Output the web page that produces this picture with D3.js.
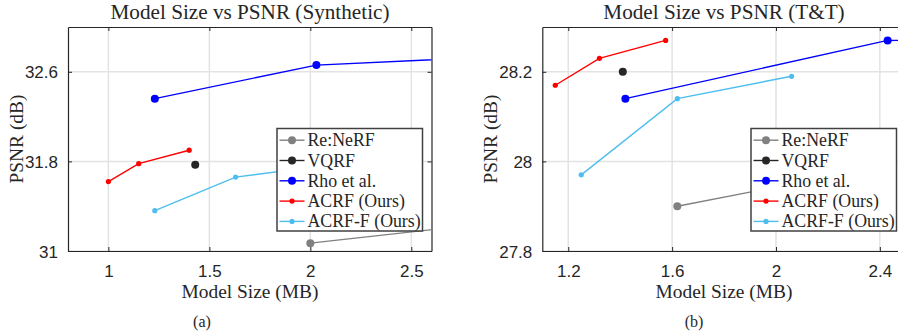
<!DOCTYPE html>
<html>
<head>
<meta charset="utf-8">
<script src="https://cdn.jsdelivr.net/npm/d3@7"></script>
<style>
  body { margin: 0; background: #fff; }
  svg { display: block; }
  .tick-label { font-family: "Liberation Sans", Arial, sans-serif; font-size: 17px; fill: #262626; }
  .serif { font-family: "Liberation Serif", "Times New Roman", serif; fill: #262626; }
</style>
</head>
<body>
<div id="chart"></div>
<script>
// series names (legend order)
const seriesNames = ["Re:NeRF", "VQRF", "Rho et al.", "ACRF (Ours)", "ACRF-F (Ours)"];
const seriesColors = ["#808080", "#262626", "#0000ff", "#ff0000", "#4dbeee"];
const markerR = [4, 4, 4, 2.6, 2.6];

// Synthetic panel: [model size (MB), PSNR (dB)]
const synReNeRF = [[2.0, 31.07], [3.0, 31.27]];
const synVQRF = [[1.43, 31.77]];
const synRho = [[1.23, 32.36], [2.03, 32.66], [3.0, 32.74]];
const synACRF = [[1.0, 31.62], [1.15, 31.78], [1.4, 31.9]];
const synACRFF = [[1.23, 31.36], [1.63, 31.66], [2.06, 31.76]];
const synXTicks = [1, 1.5, 2, 2.5];
const synYTicks = [31, 31.8, 32.6];

// T&T panel
const ttReNeRF = [[1.62, 27.9], [2.42, 27.99]];
const ttVQRF = [[1.41, 28.2]];
const ttRho = [[1.42, 28.14], [2.43, 28.27], [3.0, 28.275]];
const ttACRF = [[1.15, 28.17], [1.32, 28.23], [1.575, 28.27]];
const ttACRFF = [[1.25, 27.97], [1.62, 28.14], [2.06, 28.19]];
const ttXTicks = [1.2, 1.6, 2, 2.4];
const ttYTicks = [27.8, 28, 28.2];

const W = 898, H = 333;
const svg = d3.select("#chart").append("svg")
    .attr("width", W)
    .attr("height", H);

function drawPanel(opt) {
    const left = opt.left, top = 27, pw = 363.5, ph = 224;
    const x = d3.scaleLinear().domain(opt.xDomain).range([left, left + pw]);
    const y = d3.scaleLinear().domain(opt.yDomain).range([top + ph, top]);

    const clipId = "clip-" + opt.id;
    svg.append("clipPath").attr("id", clipId)
        .append("rect")
        .attr("x", left).attr("y", top)
        .attr("width", pw).attr("height", ph);

    const g = svg.append("g");

    // grid
    g.selectAll(".gx").data(opt.xTicks).enter().append("line")
        .attr("x1", d => x(d)).attr("x2", d => x(d))
        .attr("y1", top).attr("y2", top + ph)
        .attr("stroke", "#e3e3e3").attr("stroke-width", 1.5);
    g.selectAll(".gy").data(opt.yTicks).enter().append("line")
        .attr("x1", left).attr("x2", left + pw)
        .attr("y1", d => y(d)).attr("y2", d => y(d))
        .attr("stroke", "#e3e3e3").attr("stroke-width", 1.5);

    // axes (inward ticks, box on)
    const axB = d3.axisBottom(x).tickValues(opt.xTicks).tickSizeInner(-4).tickSizeOuter(0).tickPadding(10).tickFormat(d => String(d));
    const axT = d3.axisTop(x).tickValues(opt.xTicks).tickSizeInner(-4).tickSizeOuter(0).tickFormat("");
    const axL = d3.axisLeft(y).tickValues(opt.yTicks).tickSizeInner(-4).tickSizeOuter(0).tickPadding(10).tickFormat(d => String(d));
    const axR = d3.axisRight(y).tickValues(opt.yTicks).tickSizeInner(-4).tickSizeOuter(0).tickFormat("");

    const gb = g.append("g").attr("transform", `translate(0,${top + ph})`).call(axB);
    const gt = g.append("g").attr("transform", `translate(0,${top})`).call(axT);
    const gl = g.append("g").attr("transform", `translate(${left},0)`).call(axL);
    const gr = g.append("g").attr("transform", `translate(${left + pw},0)`).call(axR);
    [gb, gt, gl, gr].forEach(a => {
        a.select(".domain").attr("stroke", "#262626").attr("stroke-width", 1.2);
        a.selectAll(".tick line").attr("stroke", "#262626").attr("stroke-width", 1);
        a.selectAll("text").attr("class", "tick-label").attr("font-size", null).attr("font-family", null).attr("fill", null);
    });
    gb.selectAll("text").attr("dy", "0.95em");
    gl.selectAll("text").attr("dy", "0.36em");

    // series
    const plot = g.append("g").attr("clip-path", `url(#${clipId})`);
    const line = d3.line().x(d => x(d[0])).y(d => y(d[1]));
    opt.series.forEach((s, i) => {
        if (s.length > 1) {
            plot.append("path").datum(s)
                .attr("d", line)
                .attr("fill", "none")
                .attr("stroke", seriesColors[i])
                .attr("stroke-width", 1.4);
        }
        plot.selectAll(".m" + i).data(s).enter().append("circle")
            .attr("cx", d => x(d[0])).attr("cy", d => y(d[1]))
            .attr("r", markerR[i])
            .attr("fill", seriesColors[i]);
    });

    // title
    svg.append("text").attr("class", "serif")
        .attr("x", opt.titleX).attr("y", 19)
        .attr("text-anchor", "middle")
        .attr("font-size", 21.2)
        .text(opt.title);

    // x label
    svg.append("text").attr("class", "serif")
        .attr("x", opt.titleX).attr("y", 298)
        .attr("text-anchor", "middle")
        .attr("font-size", 19.4)
        .text("Model Size (MB)");

    // y label
    svg.append("text").attr("class", "serif")
        .attr("transform", `translate(${opt.yLabelX},${top + ph / 2}) rotate(-90)`)
        .attr("text-anchor", "middle")
        .attr("font-size", 19.4)
        .text("PSNR (dB)");

    // caption
    svg.append("text").attr("class", "serif")
        .attr("x", opt.capX).attr("y", 327)
        .attr("text-anchor", "middle")
        .attr("font-size", 16)
        .text(opt.caption);

    // legend
    const lx = opt.legendX, ly = 128.5, lw = 145.5, lh = 102.5;
    const lg = svg.append("g");
    lg.append("rect")
        .attr("x", lx).attr("y", ly).attr("width", lw).attr("height", lh)
        .attr("fill", "#fff").attr("stroke", "#404040").attr("stroke-width", 1.5);
    seriesNames.forEach((name, i) => {
        const cy = ly + 11.7 + i * 20.3;
        lg.append("line")
            .attr("x1", lx + 2.5).attr("x2", lx + 27.5)
            .attr("y1", cy).attr("y2", cy)
            .attr("stroke", seriesColors[i]).attr("stroke-width", 1.4);
        lg.append("circle")
            .attr("cx", lx + 15).attr("cy", cy).attr("r", markerR[i])
            .attr("fill", seriesColors[i]);
        lg.append("text").attr("class", "serif")
            .attr("x", lx + 30.5).attr("y", cy + 6)
            .attr("font-size", 17.8)
            .text(name);
    });
}

drawPanel({
    id: "syn", left: 68,
    xDomain: [0.8, 2.6], yDomain: [31, 33],
    xTicks: synXTicks, yTicks: synYTicks,
    series: [synReNeRF, synVQRF, synRho, synACRF, synACRFF],
    title: "Model Size vs PSNR (Synthetic)", titleX: 250,
    yLabelX: 23, capX: 202, caption: "(a)", legendX: 277
});

drawPanel({
    id: "tt", left: 542.3,
    xDomain: [1.1, 2.5], yDomain: [27.8, 28.3],
    xTicks: ttXTicks, yTicks: ttYTicks,
    series: [ttReNeRF, ttVQRF, ttRho, ttACRF, ttACRFF],
    title: "Model Size vs PSNR (T&T)", titleX: 724,
    yLabelX: 497, capX: 694, caption: "(b)", legendX: 751
});
</script>
</body>
</html>
